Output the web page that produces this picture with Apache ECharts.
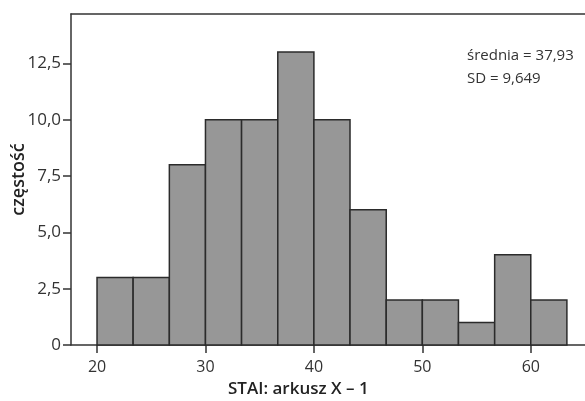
<!DOCTYPE html>
<html>
<head>
<meta charset="utf-8">
<script src="https://cdn.jsdelivr.net/npm/echarts@6/dist/echarts.min.js"></script>
<style>
  html, body { margin: 0; padding: 0; background: #fff; }
  #chart { width: 585px; height: 401px; }
</style>
</head>
<body>
<div id="chart"></div>
<script>
// bin edges (STAI: arkusz X – 1) and counts per bin
const binEdges = [20, 23.33, 26.67, 30, 33.33, 36.67, 40, 43.33, 46.67, 50, 53.33, 56.67, 60, 63.33];
const counts = [3, 3, 8, 10, 10, 13, 10, 6, 2, 2, 1, 4, 2];
const xTicks = [20, 30, 40, 50, 60];
const yTicks = [0, 2.5, 5, 7.5, 10, 12.5];
const statLines = ['średnia = 37,93', 'SD = 9,649'];

const FONT = '"Open Sans", "Noto Sans", sans-serif';
const TXT = '#333';

const bars = counts.map((c, i) => [binEdges[i], binEdges[i + 1], c]);

const chart = echarts.init(document.getElementById('chart'));

const option = {
  animation: false,
  grid: { left: 71, top: 14, right: 0, bottom: 56, outerBoundsMode: 'none', containLabel: false },
  xAxis: [{
    type: 'value',
    min: 17.6,
    max: 65,
    splitLine: { show: false },
    axisLine: { show: true, onZero: false, lineStyle: { color: '#333', width: 1.5 } },
    axisTick: { show: true, inside: false, length: 8, customValues: xTicks, lineStyle: { color: '#333', width: 1.5 } },
    axisLabel: { customValues: xTicks, color: TXT, fontSize: 16, fontFamily: FONT, margin: 14 }
  }, {
    type: 'value',
    position: 'top',
    min: 17.6,
    max: 65,
    splitLine: { show: false },
    axisLine: { show: true, onZero: false, lineStyle: { color: '#333', width: 1.5 } },
    axisTick: { show: false },
    axisLabel: { show: false }
  }],
  yAxis: {
    type: 'value',
    min: 0,
    max: 14.69,
    interval: 2.5,
    name: 'częstość',
    nameLocation: 'middle',
    nameGap: 43,
    nameMoveOverlap: false,
    nameTextStyle: { color: '#222', fontSize: 18, fontWeight: 600, fontFamily: FONT },
    splitLine: { show: false },
    axisLine: { show: true, lineStyle: { color: '#333', width: 1.5 } },
    axisTick: { show: true, length: 8, lineStyle: { color: '#333', width: 1.5 } },
    axisLabel: {
      color: TXT, fontSize: 17, fontFamily: FONT, margin: 10,
      showMaxLabel: false,
      formatter: v => v === 0 ? '0' : v.toFixed(1).replace('.', ',')
    }
  },
  series: [{
    type: 'custom',
    xAxisIndex: 0,
    data: bars,
    renderItem: (params, api) => {
      const p0 = api.coord([api.value(0), api.value(2)]);
      const p1 = api.coord([api.value(1), 0]);
      return {
        type: 'rect',
        shape: { x: p0[0], y: p0[1], width: p1[0] - p0[0], height: p1[1] - p0[1] },
        style: { fill: '#979797', stroke: '#2b2b2b', lineWidth: 1.5 }
      };
    },
    z: 1
  }],
  graphic: [{
    type: 'text',
    left: 467,
    top: 44,
    style: { text: statLines.join('\n'), fill: TXT, font: '15px ' + FONT, lineHeight: 23 }
  }, {
    type: 'text',
    left: 228,
    top: 381,
    style: { text: 'STAI: arkusz X – 1', fill: '#222', font: '600 17px ' + FONT }
  }]
};

chart.setOption(option);
</script>
</body>
</html>
